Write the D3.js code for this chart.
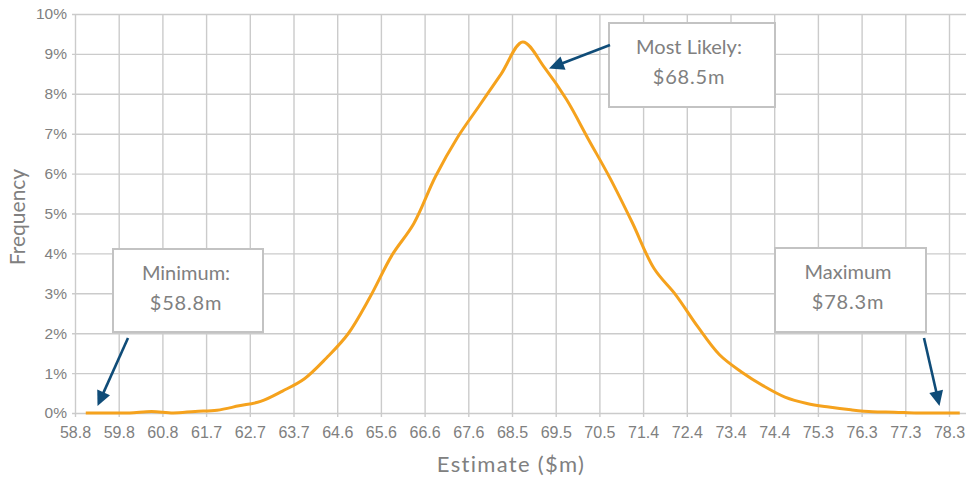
<!DOCTYPE html>
<html>
<head>
<meta charset="utf-8">
<script src="https://cdn.jsdelivr.net/npm/d3@7/dist/d3.min.js"></script>
<style>
  html, body { margin: 0; padding: 0; background: #fff; }
  svg { display: block; font-family: Lato, "Open Sans", sans-serif; }
</style>
</head>
<body>
<svg id="chart" width="966" height="482"></svg>
<script>
// Simulated cost estimate distribution: bin centres ($m) and frequency (%)
const estimates = [
  59.04, 59.53, 60.02, 60.51, 60.99, 61.48, 61.97, 62.46, 62.94, 63.43,
  63.92, 64.41, 64.89, 65.38, 65.87, 66.36, 66.84, 67.33, 67.82, 68.31,
  68.79, 69.28, 69.77, 70.26, 70.74, 71.23, 71.72, 72.21, 72.69, 73.18,
  73.67, 74.16, 74.64, 75.13, 75.62, 76.11, 76.59, 77.08, 77.57, 78.06,
  78.54
];
const frequency = [
  0.00, 0.00, 0.00, 0.04, 0.00, 0.04, 0.07, 0.18, 0.29, 0.55,
  0.86, 1.38, 1.98, 2.90, 3.95, 4.75, 5.92, 6.90, 7.70, 8.50,
  9.30, 8.65, 7.85, 6.85, 5.88, 4.78, 3.62, 2.95, 2.17, 1.46,
  1.03, 0.68, 0.40, 0.24, 0.15, 0.08, 0.03, 0.02, 0.00, 0.00,
  0.00
];

// Axis ticks
const xTickLabels = [
  "58.8", "59.8", "60.8", "61.7", "62.7", "63.7", "64.6", "65.6", "66.6", "67.6",
  "68.5", "69.5", "70.5", "71.4", "72.4", "73.4", "74.4", "75.3", "76.3", "77.3", "78.3"
];
const yTickValues = [0, 1, 2, 3, 4, 5, 6, 7, 8, 9, 10];

// Call-out texts
const calloutLines = {
  min: ["Minimum:", "$58.8m"],
  mode: ["Most Likely:", "$68.5m"],
  max: ["Maximum", "$78.3m"]
};

const svg = d3.select("#chart");
const plot = { left: 75, top: 14, bottom: 413, right: 980 };

const xMin = 58.8, xMax = 78.3;
const x = d3.scaleLinear().domain([xMin, xMax]).range([75, 949]);
const y = d3.scaleLinear().domain([0, 10]).range([plot.bottom, plot.top]);
const xTickValues = xTickLabels.map((_, i) => xMin + i * (xMax - xMin) / (xTickLabels.length - 1));

const gridColor = "#CBCBCB";
const textColor = "#808080";

// Horizontal gridlines + y labels
const yAxis = d3.axisLeft(y).tickValues(yTickValues).tickSize(0).tickPadding(8)
  .tickFormat(d => d + "%");
const gy = svg.append("g").attr("transform", `translate(${plot.left},0)`).call(yAxis);
gy.select(".domain").remove();
gy.selectAll(".tick line").remove();
gy.selectAll(".tick").append("line")
  .attr("x1", -3).attr("x2", plot.right - plot.left)
  .attr("stroke", gridColor).attr("stroke-width", 1.4);
gy.selectAll("text").attr("fill", textColor).attr("font-size", 15.5);

// Vertical gridlines + x labels
const xAxis = d3.axisBottom(x).tickValues(xTickValues).tickSize(0).tickPadding(14)
  .tickFormat((d, i) => xTickLabels[i]);
const gx = svg.append("g").attr("transform", `translate(0,${plot.bottom})`).call(xAxis);
gx.select(".domain").remove();
gx.selectAll(".tick line").remove();
gx.selectAll(".tick").append("line")
  .attr("y1", plot.top - plot.bottom).attr("y2", 4)
  .attr("stroke", gridColor).attr("stroke-width", 1.4);
gx.selectAll("text").attr("fill", textColor).attr("font-size", 16);

// Axis titles
svg.append("text")
  .attr("x", 511).attr("y", 472)
  .attr("text-anchor", "middle")
  .attr("fill", textColor).attr("font-size", 22)
  .attr("letter-spacing", 1.3)
  .text("Estimate ($m)");
svg.append("text")
  .attr("transform", "translate(25,217) rotate(-90)")
  .attr("text-anchor", "middle")
  .attr("fill", textColor).attr("font-size", 21)
  .text("Frequency");

// Distribution line
const pts = estimates.map((e, i) => [e, frequency[i]]);
const line = d3.line()
  .x(d => x(d[0])).y(d => y(d[1]))
  .curve(d3.curveCatmullRom.alpha(0.5));
svg.append("path")
  .datum(pts)
  .attr("d", line)
  .attr("fill", "none")
  .attr("stroke", "#F5A21D")
  .attr("stroke-width", 3)
  .attr("stroke-linejoin", "round");

// Call-out boxes with arrows
const callouts = [
  { key: "min", box: [113, 249, 150, 83], tx: 186, arrow: [[128, 338], [97.5, 406]] },
  { key: "mode", box: [609, 23, 166, 84], tx: 689, arrow: [[610, 45], [549, 68.5]] },
  { key: "max", box: [775, 248, 151, 84], tx: 848, arrow: [[924, 338], [939.5, 406]] }
];
const arrowColor = "#0F4C78";

callouts.forEach(c => {
  const [bx, by, bw, bh] = c.box;
  const g = svg.append("g");
  g.append("rect")
    .attr("x", bx).attr("y", by).attr("width", bw).attr("height", bh)
    .attr("fill", "#fff").attr("stroke", "#C3C3C3").attr("stroke-width", 2);
  calloutLines[c.key].forEach((t, i) => {
    g.append("text")
      .attr("x", c.tx).attr("y", by + 31 + i * 30)
      .attr("text-anchor", "middle")
      .attr("fill", textColor).attr("font-size", 20)
      .attr("letter-spacing", i === 1 ? 0.8 : 0)
      .text(t);
  });

  // arrow shaft and head
  const [[x0, y0], [x1, y1]] = c.arrow;
  const dx = x1 - x0, dy = y1 - y0, len = Math.hypot(dx, dy);
  const ux = dx / len, uy = dy / len;
  const headLen = 15, headW = 7;
  const bxh = x1 - ux * headLen, byh = y1 - uy * headLen;
  g.append("line")
    .attr("x1", x0).attr("y1", y0).attr("x2", bxh + ux * 2).attr("y2", byh + uy * 2)
    .attr("stroke", arrowColor).attr("stroke-width", 2.6);
  g.append("path")
    .attr("d", `M${x1},${y1}L${bxh - uy * headW},${byh + ux * headW}L${bxh + uy * headW},${byh - ux * headW}Z`)
    .attr("fill", arrowColor);
});
</script>
</body>
</html>
